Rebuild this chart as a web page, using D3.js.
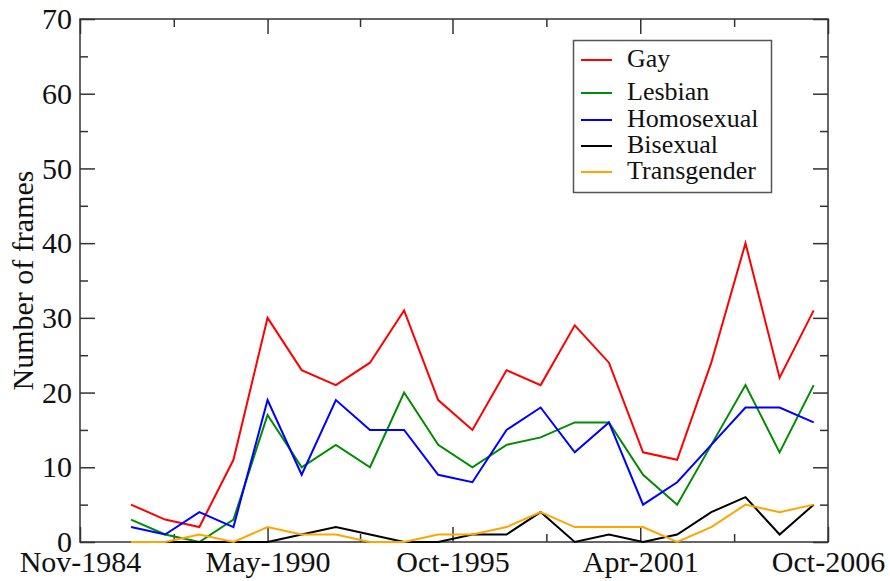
<!DOCTYPE html>
<html>
<head>
<meta charset="utf-8">
<script src="https://cdn.jsdelivr.net/npm/d3@7"></script>
<style>
  body { margin: 0; background: #fff; }
  svg { display: block; font-family: "Liberation Serif", "Times New Roman", serif; }
</style>
</head>
<body>
<svg></svg>
<script>
const years = [1986, 1987, 1988, 1989, 1990, 1991, 1992, 1993, 1994, 1995, 1996,
               1997, 1998, 1999, 2000, 2001, 2002, 2003, 2004, 2005, 2006];
const gay         = [5, 3, 2, 11, 30, 23, 21, 24, 31, 19, 15, 23, 21, 29, 24, 12, 11, 24, 40, 22, 31];
const lesbian     = [3, 1, 0, 3, 17, 10, 13, 10, 20, 13, 10, 13, 14, 16, 16, 9, 5, 13, 21, 12, 21];
const homosexual  = [2, 1, 4, 2, 19, 9, 19, 15, 15, 9, 8, 15, 18, 12, 16, 5, 8, 13, 18, 18, 16];
const bisexual    = [0, 0, 0, 0, 0, 1, 2, 1, 0, 0, 1, 1, 4, 0, 1, 0, 1, 4, 6, 1, 5];
const transgender = [0, 0, 1, 0, 2, 1, 1, 0, 0, 1, 1, 2, 4, 2, 2, 2, 0, 2, 5, 4, 5];
const seriesNames = ["Gay", "Lesbian", "Homosexual", "Bisexual", "Transgender"];
const seriesColors = ["#ff0000", "#008b00", "#0000ff", "#000000", "#ffa500"];
const xTickLabels = ["Nov-1984", "May-1990", "Oct-1995", "Apr-2001", "Oct-2006"];
const yTicks = [0, 10, 20, 30, 40, 50, 60, 70];

const width = 890,
  height = 581,
  margin = {left: 80, right: 62, top: 19, bottom: 39};

const parseTick = d3.timeParse("%b-%Y"),
  parseYear = d3.timeParse("%Y-%m-%d");

const tickDates = xTickLabels.map(parseTick);
const dates = years.map(y => parseYear(y + "-05-01"));
const allSeries = [gay, lesbian, homosexual, bisexual, transgender];

const svg = d3.select("svg")
  .attr("width", width)
  .attr("height", height);

const x = d3.scaleTime()
  .domain([tickDates[0], tickDates[tickDates.length - 1]])
  .range([margin.left, width - margin.right]);

const y = d3.scaleLinear()
  .domain([0, 70])
  .range([height - margin.bottom, margin.top]);

// minor ticks halfway between labelled dates
const minorDates = d3.pairs(tickDates).map(p => new Date((+p[0] + +p[1]) / 2));
const minorY = d3.range(5, 70, 10);

const x0 = x.range()[0], x1 = x.range()[1],
  y0 = y.range()[0], y1 = y.range()[1];

const axisColor = "#333";

function styleAxis(g) {
  g.select(".domain").remove();
  g.selectAll(".tick line").attr("stroke", axisColor).attr("stroke-width", 1.5);
  g.selectAll("text").attr("fill", "#111").style("font-size", "30px");
}

// bottom
svg.append("g")
  .attr("transform", `translate(0,${y0})`)
  .call(d3.axisBottom(x).tickValues(tickDates).tickFormat(d3.timeFormat("%b-%Y"))
    .tickSize(-15).tickPadding(9))
  .call(styleAxis)
  .attr("font-family", null);

svg.append("g")
  .attr("transform", `translate(0,${y0})`)
  .call(d3.axisBottom(x).tickValues(minorDates).tickFormat("").tickSize(-8))
  .call(styleAxis);

// top (mirror)
svg.append("g")
  .attr("transform", `translate(0,${y1})`)
  .call(d3.axisTop(x).tickValues(tickDates).tickFormat("").tickSize(-15))
  .call(styleAxis);

svg.append("g")
  .attr("transform", `translate(0,${y1})`)
  .call(d3.axisTop(x).tickValues(minorDates).tickFormat("").tickSize(-8))
  .call(styleAxis);

// left
svg.append("g")
  .attr("transform", `translate(${x0},0)`)
  .call(d3.axisLeft(y).tickValues(yTicks).tickFormat(d3.format("d"))
    .tickSize(-15).tickPadding(8))
  .call(styleAxis);

svg.append("g")
  .attr("transform", `translate(${x0},0)`)
  .call(d3.axisLeft(y).tickValues(minorY).tickFormat("").tickSize(-8))
  .call(styleAxis);

// right (mirror)
svg.append("g")
  .attr("transform", `translate(${x1},0)`)
  .call(d3.axisRight(y).tickValues(yTicks).tickFormat("").tickSize(-15))
  .call(styleAxis);

svg.append("g")
  .attr("transform", `translate(${x1},0)`)
  .call(d3.axisRight(y).tickValues(minorY).tickFormat("").tickSize(-8))
  .call(styleAxis);

svg.selectAll("g").attr("font-family", null);

// frame
svg.append("rect")
  .attr("x", x0)
  .attr("y", y1)
  .attr("width", x1 - x0)
  .attr("height", y0 - y1)
  .attr("fill", "none")
  .attr("stroke", axisColor)
  .attr("stroke-width", 1.5);

// y axis title
svg.append("text")
  .attr("transform", `translate(33,${(y0 + y1) / 2}) rotate(-90)`)
  .attr("text-anchor", "middle")
  .style("font-size", "30px")
  .attr("fill", "#111")
  .text("Number of frames");

// lines
const line = d3.line()
  .x((d, i) => x(dates[i]))
  .y(d => y(d));

svg.append("g")
  .selectAll("path")
  .data(allSeries)
  .enter()
  .append("path")
  .attr("d", line)
  .attr("fill", "none")
  .attr("stroke", (d, i) => seriesColors[i])
  .attr("stroke-width", 2)
  .attr("stroke-linejoin", "miter");

// legend
const legendRowY = [67, 100, 127, 153, 179];

const legend = svg.append("g");

legend.append("rect")
  .attr("x", 573.5)
  .attr("y", 40.5)
  .attr("width", 198)
  .attr("height", 152)
  .attr("fill", "#fff")
  .attr("stroke", "#555")
  .attr("stroke-width", 1.5);

const rows = legend.selectAll("g.row")
  .data(seriesNames)
  .enter()
  .append("g")
  .attr("class", "row")
  .attr("transform", (d, i) => `translate(0,${legendRowY[i]})`);

rows.append("line")
  .attr("x1", 581)
  .attr("x2", 612)
  .attr("y1", -7)
  .attr("y2", -7)
  .attr("stroke", (d, i) => seriesColors[i])
  .attr("stroke-width", 2);

rows.append("text")
  .attr("x", 627)
  .attr("y", 0)
  .style("font-size", "26px")
  .attr("fill", "#111")
  .text(d => d);
</script>
</body>
</html>
